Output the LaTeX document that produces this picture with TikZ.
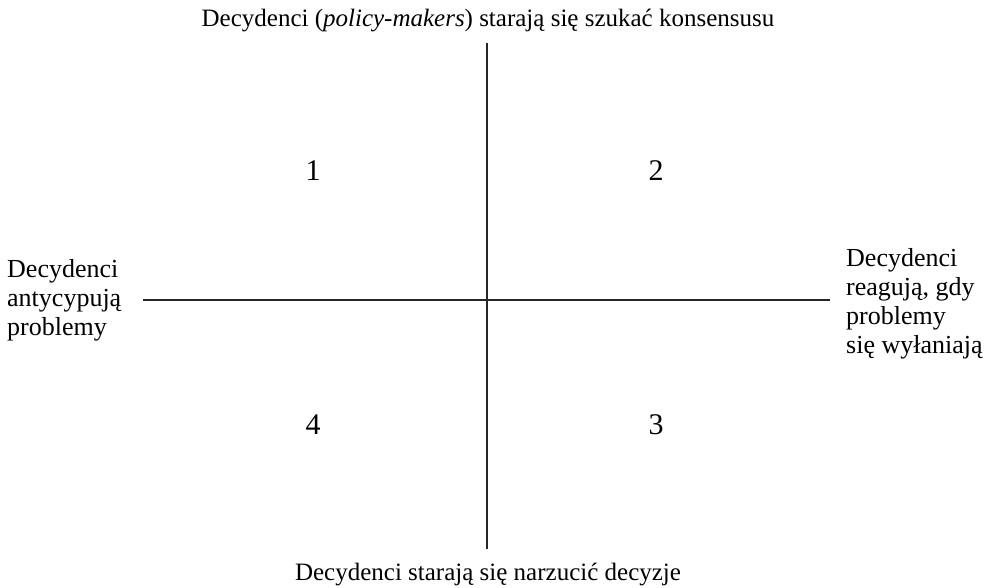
\documentclass[tikz,border=0pt]{standalone}
\usepackage{fontspec}
\setmainfont{Liberation Serif}
\begin{document}
\begin{tikzpicture}[x=1pt,y=-1pt,
  lbl/.style={inner sep=0pt,font=\fontsize{25}{28.5}\selectfont},
  side/.style={inner sep=0pt,font=\fontsize{26}{29}\selectfont},
  num/.style={inner sep=0pt,font=\fontsize{30}{34}\selectfont},
  axis/.style={line width=1.2pt,draw=black!85}]
\useasboundingbox (0,0) rectangle (998,587);
\coordinate (vt) at (487,43);
\coordinate (vb) at (487,549);
\coordinate (hl) at (143,300);
\coordinate (hr) at (830,300);
\draw[axis] (vt) -- (vb);
\draw[axis] (hl) -- (hr);
\node[lbl,anchor=base] (top) at (488,26) {Decydenci (\textit{policy-makers}) starają się szukać konsensusu};
\node[lbl,anchor=base] (bot) at (488,580) {Decydenci starają się narzucić decyzje};
\node[side,anchor=west,align=left] (left) at (7,300) {Decydenci\\antycypują\\problemy};
\node[side,anchor=west,align=left] (right) at (846,304) {Decydenci\\reagują, gdy\\problemy\\się wyłaniają};
\node[num] (q1) at (313,171) {1};
\node[num] (q2) at (656,171) {2};
\node[num] (q4) at (313,425) {4};
\node[num] (q3) at (656,425) {3};
\end{tikzpicture}
\end{document}
